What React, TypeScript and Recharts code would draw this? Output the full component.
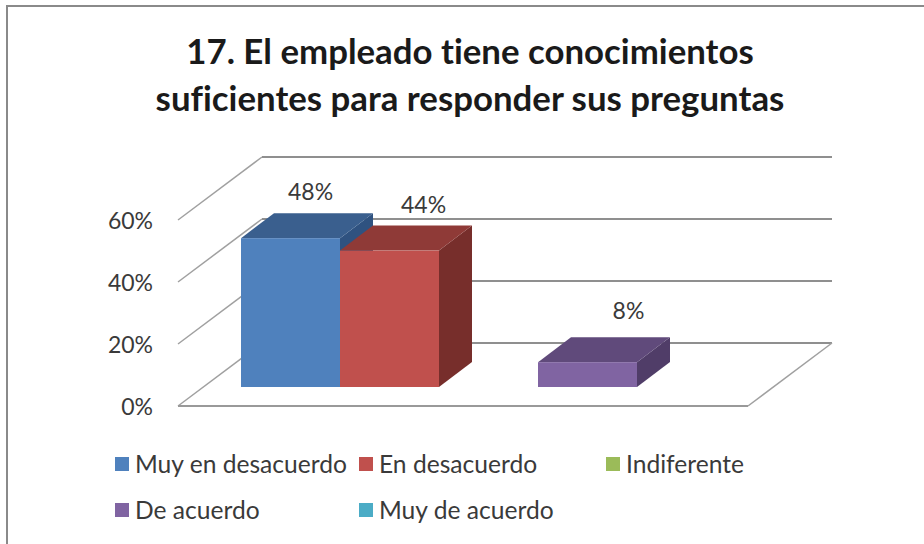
import * as React from "react";
import { Bar, BarChart, CartesianGrid, LabelList, Legend, XAxis, YAxis } from "recharts";

const TITLE_LINES = ["17. El empleado tiene conocimientos", "suficientes para responder sus preguntas"];
const CATEGORY = ["Respuestas"];
const SERIES_NAMES = ["Muy en desacuerdo", "En desacuerdo", "Indiferente", "De acuerdo", "Muy de acuerdo"];
const SERIES_VALUES = [48, 44, 0, 8, 0];
const Y_TICKS = [0, 20, 40, 60];

const FRONT_COLORS = ["#4f81bd", "#c0504d", "#9bbb59", "#8064a2", "#4bacc6"];
const TOP_COLORS = ["#3a5f8e", "#8f3a37", "#748c42", "#604a7b", "#378194"];
const SIDE_COLORS = ["#2f5280", "#772e2b", "#60743a", "#503d68", "#2e6b7b"];
// data labels float over the top face, each a bit further along the depth axis
const LABEL_SHIFT = [20, 34, 0, 41, 0];

const FONT = "Lato, 'Open Sans', sans-serif";
const TEXT = "#3a3a3a";

// 3D projection: bars stand mid-floor, floor runs from front edge to back wall
const BAR_DX = 33;
const BAR_DY = -25;
const FRONT_DX = -26;
const FRONT_DY = 19;
const BACK_DX = 58;
const BACK_DY = -44;

const data = [
  SERIES_NAMES.reduce<Record<string, string | number>>(
    (row, name, i) => {
      row[name] = SERIES_VALUES[i];
      return row;
    },
    { name: CATEGORY[0] },
  ),
];

function GridLine(props: any) {
  const { x1, x2, y1, y, height, index } = props;
  const isFloor = y1 >= y + height - 0.5;
  const frontX = x1 + FRONT_DX;
  const frontY = y1 + FRONT_DY;
  const backX = x1 + BACK_DX;
  const backY = y1 + BACK_DY;
  const backRight = x2 + BACK_DX;
  return (
    <g key={index}>
      <line x1={frontX} y1={frontY} x2={backX} y2={backY} stroke="#a0a0a0" strokeWidth={1.5} />
      <line x1={backX} y1={backY} x2={backRight} y2={backY} stroke="#8f8f8f" strokeWidth={2} />
      {isFloor && (
        <>
          <line x1={frontX} y1={frontY} x2={x2 + FRONT_DX} y2={frontY} stroke="#999" strokeWidth={2} />
          <line x1={x2 + FRONT_DX} y1={frontY} x2={backRight} y2={backY} stroke="#a0a0a0" strokeWidth={1.5} />
        </>
      )}
    </g>
  );
}

function Box3D(props: any) {
  const { x, y, width, height, seriesIndex } = props;
  if (!height || height <= 0) return null;
  const right = x + width;
  const bottom = y + height;
  const top = `${x},${y} ${x + BAR_DX},${y + BAR_DY} ${right + BAR_DX},${y + BAR_DY} ${right},${y}`;
  const side = `${right},${y} ${right + BAR_DX},${y + BAR_DY} ${right + BAR_DX},${bottom + BAR_DY} ${right},${bottom}`;
  return (
    <g>
      <polygon points={side} fill={SIDE_COLORS[seriesIndex]} />
      <polygon points={top} fill={TOP_COLORS[seriesIndex]} />
      <rect x={x} y={y} width={width} height={height} fill={FRONT_COLORS[seriesIndex]} />
    </g>
  );
}

function valueLabel(seriesIndex: number) {
  return function ValueLabel(props: any) {
    const { x, y, width, value } = props;
    if (!value) return null;
    return (
      <text
        x={x + width / 2 + LABEL_SHIFT[seriesIndex]}
        y={y - 47 - (seriesIndex === 3 ? 5 : 0)}
        textAnchor="middle"
        dominantBaseline="central"
        fontFamily={FONT}
        fontSize={23}
        fill={TEXT}
      >
        {value}%
      </text>
    );
  };
}

function AxisTick(props: any) {
  const { x, y, payload } = props;
  return (
    <text
      x={x + FRONT_DX - 25}
      y={y + FRONT_DY}
      textAnchor="end"
      dominantBaseline="central"
      fontFamily={FONT}
      fontSize={23}
      fill={TEXT}
    >
      {payload.value}%
    </text>
  );
}

function LegendGrid({ payload }: any) {
  return (
    <div style={{ display: "grid", gridTemplateColumns: "244px 247px 200px", rowGap: 17 }}>
      {(payload ?? []).map((item: any) => (
        <div key={item.value} style={{ display: "flex", alignItems: "center", height: 29 }}>
          <span style={{ width: 14, height: 14, background: item.color, marginRight: 6 }} />
          <span
            style={{
              fontFamily: FONT,
              fontSize: 24.6,
              color: TEXT,
              whiteSpace: "nowrap",
              fontVariantLigatures: "none",
            }}
          >
            {item.value}
          </span>
        </div>
      ))}
    </div>
  );
}

export default function App() {
  return (
    <div style={{ position: "absolute", left: 0, top: 0, width: 924, height: 544, overflow: "hidden", background: "#fff" }}>
      <div
        style={{
          position: "absolute",
          left: 6,
          top: 5,
          width: 940,
          height: 560,
          borderLeft: "2.5px solid #8a8a8a",
          borderTop: "2.5px solid #8a8a8a",
        }}
      />
      {TITLE_LINES.map((line, i) => (
        <div
          key={line}
          style={{
            position: "absolute",
            left: 0,
            width: 940,
            top: 27 + i * 47,
            textAlign: "center",
            fontFamily: FONT,
            fontWeight: 700,
            fontSize: 34.8,
            lineHeight: "47px",
            color: "#1a1a1a",
            whiteSpace: "nowrap",
            fontVariantLigatures: "none",
          }}
        >
          {line}
        </div>
      ))}
      <div style={{ position: "absolute", left: 0, top: 0 }}>
        <BarChart
          width={924}
          height={544}
          data={data}
          margin={{ top: 201, right: 150, bottom: 157, left: 144 }}
          barCategoryGap={37}
          barGap={0}
        >
          <CartesianGrid vertical={false} horizontal={GridLine} syncWithTicks />
          <XAxis dataKey="name" hide />
          <YAxis
            width={60}
            domain={[0, 60]}
            ticks={Y_TICKS}
            axisLine={false}
            tickLine={false}
            tickSize={0}
            tickMargin={0}
            tick={AxisTick}
          />
          <Legend
            layout="horizontal"
            verticalAlign="middle"
            align="center"
            itemSorter={null}
            wrapperStyle={{ position: "absolute", left: 115, top: 449, width: 720 }}
            content={LegendGrid}
          />
          {SERIES_NAMES.map((name, i) => (
            <Bar
              key={name}
              dataKey={name}
              name={name}
              fill={FRONT_COLORS[i]}
              isAnimationActive={false}
              shape={(p: any) => <Box3D {...p} seriesIndex={i} />}
            >
              <LabelList dataKey={name} content={valueLabel(i)} />
            </Bar>
          ))}
        </BarChart>
      </div>
    </div>
  );
}
